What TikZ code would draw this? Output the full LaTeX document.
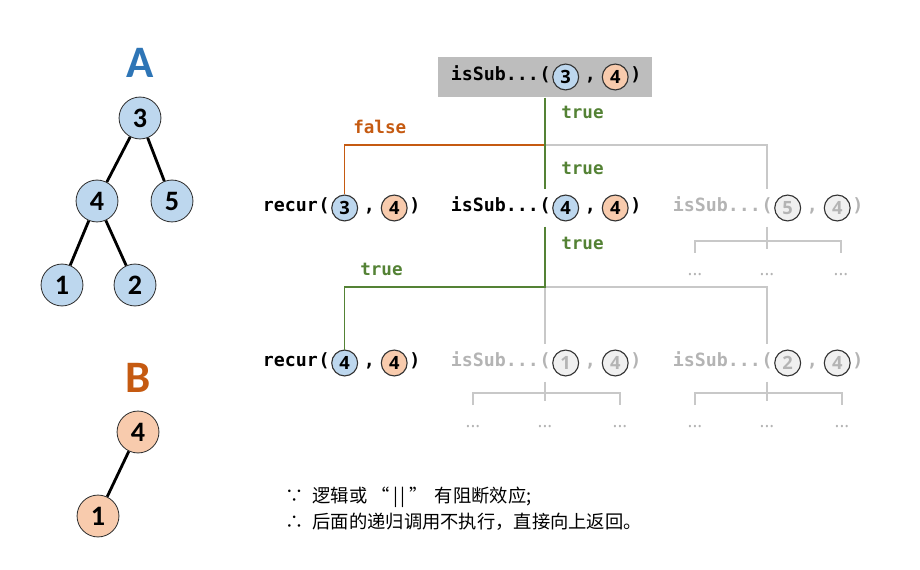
\documentclass[tikz,border=0pt]{standalone}
\usepackage{fontspec}
\setmonofont{DejaVu Sans Mono}
\newfontfamily\cjk{Noto Sans CJK SC}
\newfontfamily\treefont{Carlito}
\newfontfamily\argfont{Open Sans}
\usetikzlibrary{positioning}

\definecolor{nodeblue}{HTML}{BDD7EE}
\definecolor{nodeorange}{HTML}{F8CBAD}
\definecolor{titleblue}{HTML}{2E75B6}
\definecolor{titleorange}{HTML}{C55A11}
\definecolor{truegreen}{HTML}{548235}
\definecolor{falseorange}{HTML}{C55A11}
\definecolor{fadegray}{HTML}{B4B4B4}
\definecolor{linegray}{HTML}{C8C8C8}
\definecolor{boxgray}{HTML}{BDBDBD}
\definecolor{rimgray}{HTML}{333333}

% one call: name, position of "(", function, two arguments, text style, argument styles
\newcommand{\callnodes}[8]{%
  \node[punct,#6] (#1p) at (#2) {(};
  \node[punct,#6,left=0pt of #1p] (#1f) {#3};
  \node[argc,#7,right=1pt of #1p] (#1a) {#4};
  \node[punct,#6,right=3.9pt of #1a] (#1c) {,};
  \node[argc,#8,right=3.9pt of #1c] (#1b) {#5};
  \node[punct,#6,right=1pt of #1b] (#1q) {)};
}

\begin{document}
\begin{tikzpicture}[x=0.025cm,y=-0.025cm,
    tnode/.style={draw=rimgray,circle,line width=0.6pt,minimum size=29.8pt,inner sep=0pt,
      font=\treefont\bfseries\fontsize{20}{20}\selectfont},
    tedge/.style={line width=2pt},
    title/.style={font=\treefont\bfseries\fontsize{32}{32}\selectfont},
    punct/.style={inner sep=0pt,text height=0.75em,text depth=0.25em,
      font=\ttfamily\bfseries\fontsize{13}{15}\selectfont},
    blk/.style={text=black},
    fade/.style={text=fadegray},
    argc/.style={draw=rimgray,circle,line width=0.8pt,minimum size=18.4pt,inner sep=0pt,
      font=\argfont\bfseries\fontsize{13}{13}\selectfont},
    barg/.style={fill=nodeblue},
    oarg/.style={fill=nodeorange},
    garg/.style={fill=black!6,text=fadegray},
    lbl/.style={inner sep=0pt,anchor=west,font=\ttfamily\bfseries\fontsize{12.5}{14}\selectfont},
    greenline/.style={draw=truegreen,line width=0.9pt},
    orangeline/.style={draw=falseorange,line width=0.9pt},
    grayline/.style={draw=linegray,line width=0.9pt},
    dots/.style={inner sep=0pt,text=fadegray,font=\argfont\fontsize{13}{14}\selectfont},
    note/.style={inner sep=0pt,anchor=west,font=\cjk\fontsize{13}{15}\selectfont}]
  \useasboundingbox (0,0) rectangle (920,570);

  % tree A
  \node[title,text=titleblue] (ta) at (140,63) {A};
  \node[tnode,fill=nodeblue] (a3) at (140,118) {3};
  \node[tnode,fill=nodeblue] (a4) at (97,201) {4};
  \node[tnode,fill=nodeblue] (a5) at (172,201) {5};
  \node[tnode,fill=nodeblue] (a1) at (62,285) {1};
  \node[tnode,fill=nodeblue] (a2) at (135,285) {2};
  \draw[tedge] (a3) -- (a4) (a3) -- (a5) (a4) -- (a1) (a4) -- (a2);

  % tree B
  \node[title,text=titleorange] (tb) at (138,378) {B};
  \node[tnode,fill=nodeorange] (b4) at (138,432) {4};
  \node[tnode,fill=nodeorange] (b1) at (98,516) {1};
  \draw[tedge] (b4) -- (b1);

  % calls
  \node[fill=boxgray,minimum width=151.7pt,minimum height=29pt] (top) at (545,77) {};
  \callnodes{c1}{545,77}{isSub...}{3}{4}{blk}{barg}{oarg}
  \callnodes{r1}{324,208}{recur}{3}{4}{blk}{barg}{oarg}
  \callnodes{c2}{545,208}{isSub...}{4}{4}{blk}{barg}{oarg}
  \callnodes{g1}{767,208}{isSub...}{5}{4}{fade}{garg}{garg}
  \callnodes{r2}{324,363}{recur}{4}{4}{blk}{barg}{oarg}
  \callnodes{g3}{545,363}{isSub...}{1}{4}{fade}{garg}{garg}
  \callnodes{g2}{767,363}{isSub...}{2}{4}{fade}{garg}{garg}

  \coordinate (j1) at (545,145);
  \coordinate (j2) at (545,287);

  % first level
  \draw[grayline,shorten >=8pt] (j1) -| (g1p.north);
  \draw[orangeline] (j1) -| (r1a.north);
  \draw[greenline,shorten >=8pt] (top.south) -- (c2p.north);

  % second level
  \draw[grayline,shorten >=8pt] (j2) -| (g2p.north);
  \draw[grayline,shorten >=8pt] (j2) -- (g3p.north);
  \draw[greenline,shorten <=8pt] (c2p.south) -- (j2) -| (r2a.north);

  % labels
  \node[lbl,text=truegreen] (l1) at (561,112) {true};
  \node[lbl,text=falseorange] (l2) at (353,127) {false};
  \node[lbl,text=truegreen] (l3) at (561,168) {true};
  \node[lbl,text=truegreen] (l4) at (561,243) {true};
  \node[lbl,text=truegreen] (l5) at (360,269) {true};

  % pruned branches
  \node[dots] (d11) at (695,275) {...};
  \node[dots] (d12) at (767,275) {...};
  \node[dots] (d13) at (841,275) {...};
  \node[dots] (d31) at (473,427) {...};
  \node[dots] (d32) at (545,427) {...};
  \node[dots] (d33) at (620,427) {...};
  \node[dots] (d21) at (695,427) {...};
  \node[dots] (d22) at (767,427) {...};
  \node[dots] (d23) at (842,427) {...};
  \coordinate (k1) at (767,241);
  \coordinate (k3) at (545,393);
  \coordinate (k2) at (767,393);
  \draw[grayline,shorten <=8pt] (g1p.south) -- (k1) -- ++(0,8);
  \draw[grayline] (d11 |- k1) ++(0,12) -- (d11 |- k1) -- (d13 |- k1) -- ++(0,12);
  \draw[grayline,shorten <=8pt] (g3p.south) -- (k3) -- ++(0,8);
  \draw[grayline] (d31 |- k3) ++(0,12) -- (d31 |- k3) -- (d33 |- k3) -- ++(0,12);
  \draw[grayline,shorten <=8pt] (g2p.south) -- (k2) -- ++(0,8);
  \draw[grayline] (d21 |- k2) ++(0,12) -- (d21 |- k2) -- (d23 |- k2) -- ++(0,12);

  % notes
  \node[note] (n1) at (285,497) {∵\hspace{0.5em}逻辑或\hspace{0.2em}“\hspace{0.2em}|\hspace{0.15em}|\hspace{0.2em}”\hspace{0.4em}有阻断效应;};
  \node[note] (n2) at (285,522) {∴\hspace{0.5em}后面的递归调用不执行，直接向上返回。};
\end{tikzpicture}
\end{document}
